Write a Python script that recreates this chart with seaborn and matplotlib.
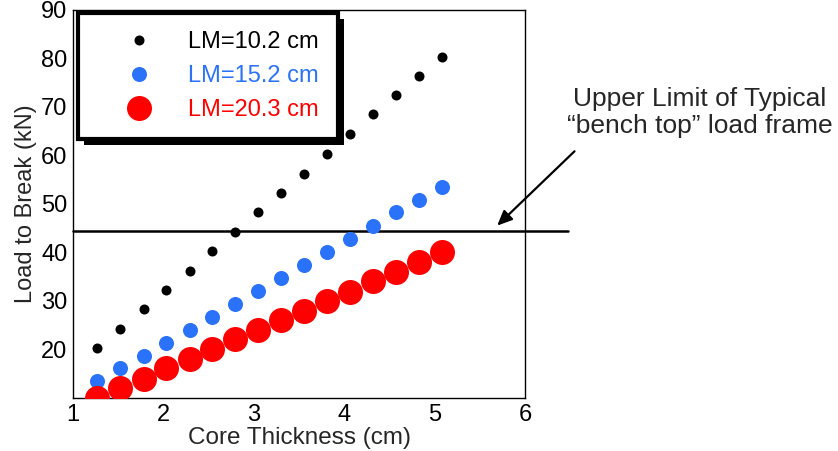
import matplotlib

matplotlib.use("Agg")
import matplotlib.pyplot as plt
import pandas as pd
import seaborn as sns
from matplotlib.lines import Line2D
from matplotlib.patches import Rectangle

# core thickness (0.5 in to 2 in, 0.1 in steps)
thickness_cm = [1.27, 1.52, 1.78, 2.03, 2.29, 2.54, 2.79, 3.05,
                3.30, 3.56, 3.81, 4.06, 4.32, 4.57, 4.83, 5.08]
load_lm_10_2 = [20.2, 24.2, 28.3, 32.3, 36.2, 40.2, 44.2, 48.3,
                52.2, 56.2, 60.2, 64.3, 68.4, 72.3, 76.3, 80.3]
load_lm_15_2 = [13.5, 16.1, 18.7, 21.4, 24.0, 26.7, 29.3, 32.0,
                34.7, 37.4, 40.0, 42.7, 45.4, 48.2, 50.8, 53.5]
load_lm_20_3 = [9.9, 12.1, 14.0, 16.1, 18.1, 20.1, 22.1, 24.0,
                26.1, 27.9, 30.0, 31.9, 34.1, 36.0, 38.0, 40.0]
series_labels = ["LM=10.2 cm", "LM=15.2 cm", "LM=20.3 cm"]
limit_kn = 44.4
x_ticks = [1, 2, 3, 4, 5, 6]
y_ticks = [20, 30, 40, 50, 60, 70, 80, 90]

colors = ["#000000", "#2a72fa", "#ff0000"]
sizes = [52, 117, 324]

sns.set_style("white")
plt.rcParams["font.family"] = ["Liberation Sans", "DejaVu Sans"]

df = pd.DataFrame({
    "thickness": thickness_cm * 3,
    "load": load_lm_10_2 + load_lm_15_2 + load_lm_20_3,
    "series": [lab for lab in series_labels for _ in thickness_cm],
})

fig = plt.figure(figsize=(8.38, 4.51), dpi=100)
ax = fig.add_axes([73 / 838, 1 - 398 / 451, 452 / 838, (398 - 9.5) / 451])

for lab, col, sz in zip(series_labels, colors, sizes):
    sub = df[df["series"] == lab]
    sns.scatterplot(data=sub, x="thickness", y="load", color=col, s=sz,
                    linewidth=0, ax=ax, legend=False, zorder=3)

ax.set_xlim(1, 6)
ax.set_ylim(10, 90)
ax.set_xticks(x_ticks)
ax.set_yticks(y_ticks)
ax.tick_params(direction="in", length=11, width=0.8, labelsize=17,
               colors="#333333", labelcolor="black", pad=4)
for sp in ax.spines.values():
    sp.set_linewidth(1)
    sp.set_color("black")
ax.set_xlabel("Core Thickness (cm)", fontsize=17.5, labelpad=1)
ax.set_ylabel("Load to Break (kN)", fontsize=17, labelpad=3)

# bench-top load frame limit, extends past the plot area
ax.plot([1, 6.48], [limit_kn, limit_kn], color="black", lw=1.8,
        clip_on=False, zorder=2)
ax.annotate("", xy=(5.67, 45.1), xytext=(6.57, 61.2),
            arrowprops=dict(arrowstyle="-|>,head_length=0.9,head_width=0.4",
                            color="black", lw=1.6),
            annotation_clip=False)
ax.text(7.93, 68.8, "Upper Limit of Typical\n\u201cbench top\u201d load frame",
        ha="center", va="center", fontsize=19, linespacing=1.2,
        clip_on=False)

handles = [Line2D([], [], ls="none", marker="o", color=c, markeredgewidth=0,
                  markersize=s ** 0.5) for c, s in zip(colors, sizes)]
leg = ax.legend(handles, series_labels, loc="upper left",
                bbox_to_anchor=(78 / 838, 1 - 13 / 451),
                bbox_transform=fig.transFigure, borderaxespad=0,
                fontsize=17, frameon=True, fancybox=False, framealpha=1,
                edgecolor="black", handlelength=3.6, handletextpad=0.3,
                labelspacing=0.5, borderpad=0.78)
leg.get_frame().set_linewidth(3)
leg.set_zorder(5)
for txt, col in zip(leg.get_texts(), colors):
    txt.set_color(col)

# solid black drop shadow behind the legend box
fig.canvas.draw()
bb = leg.get_frame().get_window_extent()
ax.add_patch(Rectangle((bb.x0 + 6, bb.y0 - 6), bb.width, bb.height,
                       transform=None, facecolor="black", edgecolor="none",
                       zorder=4.9, clip_on=False))

fig.savefig("out.png", dpi=100)
